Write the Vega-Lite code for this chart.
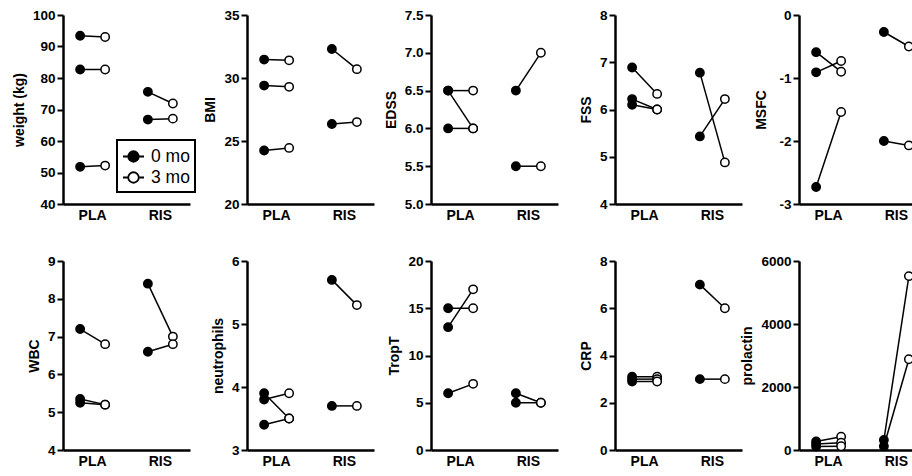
{
  "$schema": "https://vega.github.io/schema/vega-lite/v6.json",
  "padding": {"left": 12, "top": 8, "right": 0, "bottom": 0},
  "datasets": {
    "d": [
      {"measure":"weight","group":"PLA","subject":"P1","time":"0 mo","value":93.4},
      {"measure":"weight","group":"PLA","subject":"P1","time":"3 mo","value":93.0},
      {"measure":"weight","group":"PLA","subject":"P2","time":"0 mo","value":82.7},
      {"measure":"weight","group":"PLA","subject":"P2","time":"3 mo","value":82.7},
      {"measure":"weight","group":"PLA","subject":"P3","time":"0 mo","value":51.8},
      {"measure":"weight","group":"PLA","subject":"P3","time":"3 mo","value":52.2},
      {"measure":"weight","group":"RIS","subject":"R1","time":"0 mo","value":75.6},
      {"measure":"weight","group":"RIS","subject":"R1","time":"3 mo","value":71.9},
      {"measure":"weight","group":"RIS","subject":"R2","time":"0 mo","value":66.8},
      {"measure":"weight","group":"RIS","subject":"R2","time":"3 mo","value":67.1},

      {"measure":"BMI","group":"PLA","subject":"P1","time":"0 mo","value":31.46},
      {"measure":"BMI","group":"PLA","subject":"P1","time":"3 mo","value":31.4},
      {"measure":"BMI","group":"PLA","subject":"P2","time":"0 mo","value":29.4},
      {"measure":"BMI","group":"PLA","subject":"P2","time":"3 mo","value":29.3},
      {"measure":"BMI","group":"PLA","subject":"P3","time":"0 mo","value":24.25},
      {"measure":"BMI","group":"PLA","subject":"P3","time":"3 mo","value":24.45},
      {"measure":"BMI","group":"RIS","subject":"R1","time":"0 mo","value":32.3},
      {"measure":"BMI","group":"RIS","subject":"R1","time":"3 mo","value":30.7},
      {"measure":"BMI","group":"RIS","subject":"R2","time":"0 mo","value":26.35},
      {"measure":"BMI","group":"RIS","subject":"R2","time":"3 mo","value":26.5},

      {"measure":"EDSS","group":"PLA","subject":"P1","time":"0 mo","value":6.5},
      {"measure":"EDSS","group":"PLA","subject":"P1","time":"3 mo","value":6.5},
      {"measure":"EDSS","group":"PLA","subject":"P2","time":"0 mo","value":6.5},
      {"measure":"EDSS","group":"PLA","subject":"P2","time":"3 mo","value":6.0},
      {"measure":"EDSS","group":"PLA","subject":"P3","time":"0 mo","value":6.0},
      {"measure":"EDSS","group":"PLA","subject":"P3","time":"3 mo","value":6.0},
      {"measure":"EDSS","group":"RIS","subject":"R1","time":"0 mo","value":6.5},
      {"measure":"EDSS","group":"RIS","subject":"R1","time":"3 mo","value":7.0},
      {"measure":"EDSS","group":"RIS","subject":"R2","time":"0 mo","value":5.5},
      {"measure":"EDSS","group":"RIS","subject":"R2","time":"3 mo","value":5.5},

      {"measure":"FSS","group":"PLA","subject":"P1","time":"0 mo","value":6.89},
      {"measure":"FSS","group":"PLA","subject":"P1","time":"3 mo","value":6.33},
      {"measure":"FSS","group":"PLA","subject":"P2","time":"0 mo","value":6.22},
      {"measure":"FSS","group":"PLA","subject":"P2","time":"3 mo","value":6.0},
      {"measure":"FSS","group":"PLA","subject":"P3","time":"0 mo","value":6.1},
      {"measure":"FSS","group":"PLA","subject":"P3","time":"3 mo","value":6.0},
      {"measure":"FSS","group":"RIS","subject":"R1","time":"0 mo","value":6.78},
      {"measure":"FSS","group":"RIS","subject":"R1","time":"3 mo","value":4.88},
      {"measure":"FSS","group":"RIS","subject":"R2","time":"0 mo","value":5.43},
      {"measure":"FSS","group":"RIS","subject":"R2","time":"3 mo","value":6.22},

      {"measure":"MSFC","group":"PLA","subject":"P1","time":"0 mo","value":-0.59},
      {"measure":"MSFC","group":"PLA","subject":"P1","time":"3 mo","value":-0.9},
      {"measure":"MSFC","group":"PLA","subject":"P2","time":"0 mo","value":-0.91},
      {"measure":"MSFC","group":"PLA","subject":"P2","time":"3 mo","value":-0.73},
      {"measure":"MSFC","group":"PLA","subject":"P3","time":"0 mo","value":-2.73},
      {"measure":"MSFC","group":"PLA","subject":"P3","time":"3 mo","value":-1.54},
      {"measure":"MSFC","group":"RIS","subject":"R1","time":"0 mo","value":-0.27},
      {"measure":"MSFC","group":"RIS","subject":"R1","time":"3 mo","value":-0.5},
      {"measure":"MSFC","group":"RIS","subject":"R2","time":"0 mo","value":-2.0},
      {"measure":"MSFC","group":"RIS","subject":"R2","time":"3 mo","value":-2.07},

      {"measure":"WBC","group":"PLA","subject":"P1","time":"0 mo","value":7.2},
      {"measure":"WBC","group":"PLA","subject":"P1","time":"3 mo","value":6.8},
      {"measure":"WBC","group":"PLA","subject":"P2","time":"0 mo","value":5.35},
      {"measure":"WBC","group":"PLA","subject":"P2","time":"3 mo","value":5.2},
      {"measure":"WBC","group":"PLA","subject":"P3","time":"0 mo","value":5.25},
      {"measure":"WBC","group":"PLA","subject":"P3","time":"3 mo","value":5.2},
      {"measure":"WBC","group":"RIS","subject":"R1","time":"0 mo","value":8.4},
      {"measure":"WBC","group":"RIS","subject":"R1","time":"3 mo","value":7.0},
      {"measure":"WBC","group":"RIS","subject":"R2","time":"0 mo","value":6.6},
      {"measure":"WBC","group":"RIS","subject":"R2","time":"3 mo","value":6.8},

      {"measure":"neutrophils","group":"PLA","subject":"P1","time":"0 mo","value":3.9},
      {"measure":"neutrophils","group":"PLA","subject":"P1","time":"3 mo","value":3.5},
      {"measure":"neutrophils","group":"PLA","subject":"P2","time":"0 mo","value":3.8},
      {"measure":"neutrophils","group":"PLA","subject":"P2","time":"3 mo","value":3.9},
      {"measure":"neutrophils","group":"PLA","subject":"P3","time":"0 mo","value":3.4},
      {"measure":"neutrophils","group":"PLA","subject":"P3","time":"3 mo","value":3.5},
      {"measure":"neutrophils","group":"RIS","subject":"R1","time":"0 mo","value":5.7},
      {"measure":"neutrophils","group":"RIS","subject":"R1","time":"3 mo","value":5.3},
      {"measure":"neutrophils","group":"RIS","subject":"R2","time":"0 mo","value":3.7},
      {"measure":"neutrophils","group":"RIS","subject":"R2","time":"3 mo","value":3.7},

      {"measure":"TropT","group":"PLA","subject":"P1","time":"0 mo","value":15},
      {"measure":"TropT","group":"PLA","subject":"P1","time":"3 mo","value":15},
      {"measure":"TropT","group":"PLA","subject":"P2","time":"0 mo","value":13},
      {"measure":"TropT","group":"PLA","subject":"P2","time":"3 mo","value":17},
      {"measure":"TropT","group":"PLA","subject":"P3","time":"0 mo","value":6},
      {"measure":"TropT","group":"PLA","subject":"P3","time":"3 mo","value":7},
      {"measure":"TropT","group":"RIS","subject":"R1","time":"0 mo","value":6},
      {"measure":"TropT","group":"RIS","subject":"R1","time":"3 mo","value":5},
      {"measure":"TropT","group":"RIS","subject":"R2","time":"0 mo","value":5},
      {"measure":"TropT","group":"RIS","subject":"R2","time":"3 mo","value":5},

      {"measure":"CRP","group":"PLA","subject":"P1","time":"0 mo","value":3.1},
      {"measure":"CRP","group":"PLA","subject":"P1","time":"3 mo","value":3.1},
      {"measure":"CRP","group":"PLA","subject":"P2","time":"0 mo","value":3.0},
      {"measure":"CRP","group":"PLA","subject":"P2","time":"3 mo","value":3.0},
      {"measure":"CRP","group":"PLA","subject":"P3","time":"0 mo","value":2.9},
      {"measure":"CRP","group":"PLA","subject":"P3","time":"3 mo","value":2.9},
      {"measure":"CRP","group":"RIS","subject":"R1","time":"0 mo","value":7},
      {"measure":"CRP","group":"RIS","subject":"R1","time":"3 mo","value":6},
      {"measure":"CRP","group":"RIS","subject":"R2","time":"0 mo","value":3},
      {"measure":"CRP","group":"RIS","subject":"R2","time":"3 mo","value":3},

      {"measure":"prolactin","group":"PLA","subject":"P1","time":"0 mo","value":270},
      {"measure":"prolactin","group":"PLA","subject":"P1","time":"3 mo","value":420},
      {"measure":"prolactin","group":"PLA","subject":"P2","time":"0 mo","value":190},
      {"measure":"prolactin","group":"PLA","subject":"P2","time":"3 mo","value":230},
      {"measure":"prolactin","group":"PLA","subject":"P3","time":"0 mo","value":110},
      {"measure":"prolactin","group":"PLA","subject":"P3","time":"3 mo","value":120},
      {"measure":"prolactin","group":"RIS","subject":"R1","time":"0 mo","value":320},
      {"measure":"prolactin","group":"RIS","subject":"R1","time":"3 mo","value":5520},
      {"measure":"prolactin","group":"RIS","subject":"R2","time":"0 mo","value":120},
      {"measure":"prolactin","group":"RIS","subject":"R2","time":"3 mo","value":2880}
    ]
  },
  "data": {"name": "d"},
  "columns": 5,
  "spacing": {"row": 57, "column": 57},
  "bounds": "flush",
  "resolve": {"legend": {"fill": "independent"}},
  "concat": [
    {
      "width": 127, "height": 189,
      "transform": [{"filter": "datum.measure === 'weight'"}],
      "encoding": {
        "x": {"field": "group", "type": "nominal", "sort": ["PLA","RIS"], "scale": {"type": "band", "paddingInner": 0.2, "paddingOuter": 0.0372}, "axis": {"title": null, "ticks": false, "labelAngle": 0, "labelPadding": 4, "labelFontSize": 14}},
        "xOffset": {"field": "time", "type": "nominal", "sort": ["0 mo","3 mo"], "scale": {"type": "point", "padding": 0.584}},
        "y": {"field": "value", "type": "quantitative", "scale": {"domain": [40,100], "nice": false, "zero": false}, "axis": {"title": "weight (kg)", "values": [40,50,60,70,80,90,100], "format": "d"}}
      },
      "layer": [
        {"mark": {"type": "line", "color": "black", "strokeWidth": 1.5}, "encoding": {"detail": {"field": "subject"}}},
        {"mark": {"type": "point", "filled": true, "size": 70, "stroke": "black", "strokeWidth": 1.5, "opacity": 1},
         "encoding": {"fill": {"field": "time", "type": "nominal", "scale": {"domain": ["0 mo","3 mo"], "range": ["black","white"]},
           "legend": {"title": null, "orient": "none", "legendX": 54, "legendY": 125, "strokeColor": "black", "padding": 5, "rowPadding": 0,
             "symbolType": "M-1,0L-0.5,0M0.5,0L1,0M0.5,0A0.5,0.5,0,1,1,-0.5,0A0.5,0.5,0,1,1,0.5,0Z",
             "symbolSize": 441, "symbolStrokeColor": "black", "symbolStrokeWidth": 1.8, "symbolOpacity": 1,
             "labelFont": "Liberation Sans", "labelFontSize": 17.5, "labelFontWeight": "normal", "labelColor": "black", "labelOffset": 6}}}}
      ]
    },
    {
      "width": 127, "height": 189,
      "transform": [{"filter": "datum.measure === 'BMI'"}],
      "encoding": {
        "x": {"field": "group", "type": "nominal", "sort": ["PLA","RIS"], "scale": {"type": "band", "paddingInner": 0.2, "paddingOuter": 0.0372}, "axis": {"title": null, "ticks": false, "labelAngle": 0, "labelPadding": 4, "labelFontSize": 14}},
        "xOffset": {"field": "time", "type": "nominal", "sort": ["0 mo","3 mo"], "scale": {"type": "point", "padding": 0.584}},
        "y": {"field": "value", "type": "quantitative", "scale": {"domain": [20,35], "nice": false, "zero": false}, "axis": {"title": "BMI", "values": [20,25,30,35], "format": "d"}}
      },
      "layer": [
        {"mark": {"type": "line", "color": "black", "strokeWidth": 1.5}, "encoding": {"detail": {"field": "subject"}}},
        {"mark": {"type": "point", "filled": true, "size": 70, "stroke": "black", "strokeWidth": 1.5, "opacity": 1},
         "encoding": {"fill": {"field": "time", "type": "nominal", "scale": {"domain": ["0 mo","3 mo"], "range": ["black","white"]}, "legend": null}}}
      ]
    },
    {
      "width": 127, "height": 189,
      "transform": [{"filter": "datum.measure === 'EDSS'"}],
      "encoding": {
        "x": {"field": "group", "type": "nominal", "sort": ["PLA","RIS"], "scale": {"type": "band", "paddingInner": 0.2, "paddingOuter": 0.0372}, "axis": {"title": null, "ticks": false, "labelAngle": 0, "labelPadding": 4, "labelFontSize": 14}},
        "xOffset": {"field": "time", "type": "nominal", "sort": ["0 mo","3 mo"], "scale": {"type": "point", "padding": 0.584}},
        "y": {"field": "value", "type": "quantitative", "scale": {"domain": [5,7.5], "nice": false, "zero": false}, "axis": {"title": "EDSS", "values": [5,5.5,6,6.5,7,7.5], "format": ".1f"}}
      },
      "layer": [
        {"mark": {"type": "line", "color": "black", "strokeWidth": 1.5}, "encoding": {"detail": {"field": "subject"}}},
        {"mark": {"type": "point", "filled": true, "size": 70, "stroke": "black", "strokeWidth": 1.5, "opacity": 1},
         "encoding": {"fill": {"field": "time", "type": "nominal", "scale": {"domain": ["0 mo","3 mo"], "range": ["black","white"]}, "legend": null}}}
      ]
    },
    {
      "width": 127, "height": 189,
      "transform": [{"filter": "datum.measure === 'FSS'"}],
      "encoding": {
        "x": {"field": "group", "type": "nominal", "sort": ["PLA","RIS"], "scale": {"type": "band", "paddingInner": 0.2, "paddingOuter": 0.0372}, "axis": {"title": null, "ticks": false, "labelAngle": 0, "labelPadding": 4, "labelFontSize": 14}},
        "xOffset": {"field": "time", "type": "nominal", "sort": ["0 mo","3 mo"], "scale": {"type": "point", "padding": 0.584}},
        "y": {"field": "value", "type": "quantitative", "scale": {"domain": [4,8], "nice": false, "zero": false}, "axis": {"title": "FSS", "values": [4,5,6,7,8], "format": "d"}}
      },
      "layer": [
        {"mark": {"type": "line", "color": "black", "strokeWidth": 1.5}, "encoding": {"detail": {"field": "subject"}}},
        {"mark": {"type": "point", "filled": true, "size": 70, "stroke": "black", "strokeWidth": 1.5, "opacity": 1},
         "encoding": {"fill": {"field": "time", "type": "nominal", "scale": {"domain": ["0 mo","3 mo"], "range": ["black","white"]}, "legend": null}}}
      ]
    },
    {
      "width": 127, "height": 189,
      "transform": [{"filter": "datum.measure === 'MSFC'"}],
      "encoding": {
        "x": {"field": "group", "type": "nominal", "sort": ["PLA","RIS"], "scale": {"type": "band", "paddingInner": 0.2, "paddingOuter": 0.0372}, "axis": {"title": null, "ticks": false, "labelAngle": 0, "labelPadding": 4, "labelFontSize": 14}},
        "xOffset": {"field": "time", "type": "nominal", "sort": ["0 mo","3 mo"], "scale": {"type": "point", "padding": 0.584}},
        "y": {"field": "value", "type": "quantitative", "scale": {"domain": [-3,0], "nice": false, "zero": false}, "axis": {"title": "MSFC", "values": [-3,-2,-1,0], "labelExpr": "'' + datum.value", "titlePadding": 10}}
      },
      "layer": [
        {"mark": {"type": "line", "color": "black", "strokeWidth": 1.5}, "encoding": {"detail": {"field": "subject"}}},
        {"mark": {"type": "point", "filled": true, "size": 70, "stroke": "black", "strokeWidth": 1.5, "opacity": 1},
         "encoding": {"fill": {"field": "time", "type": "nominal", "scale": {"domain": ["0 mo","3 mo"], "range": ["black","white"]}, "legend": null}}}
      ]
    },
    {
      "width": 127, "height": 189,
      "transform": [{"filter": "datum.measure === 'WBC'"}],
      "encoding": {
        "x": {"field": "group", "type": "nominal", "sort": ["PLA","RIS"], "scale": {"type": "band", "paddingInner": 0.2, "paddingOuter": 0.0372}, "axis": {"title": null, "ticks": false, "labelAngle": 0, "labelPadding": 4, "labelFontSize": 14}},
        "xOffset": {"field": "time", "type": "nominal", "sort": ["0 mo","3 mo"], "scale": {"type": "point", "padding": 0.584}},
        "y": {"field": "value", "type": "quantitative", "scale": {"domain": [4,9], "nice": false, "zero": false}, "axis": {"title": "WBC", "values": [4,5,6,7,8,9], "format": "d"}}
      },
      "layer": [
        {"mark": {"type": "line", "color": "black", "strokeWidth": 1.5}, "encoding": {"detail": {"field": "subject"}}},
        {"mark": {"type": "point", "filled": true, "size": 70, "stroke": "black", "strokeWidth": 1.5, "opacity": 1},
         "encoding": {"fill": {"field": "time", "type": "nominal", "scale": {"domain": ["0 mo","3 mo"], "range": ["black","white"]}, "legend": null}}}
      ]
    },
    {
      "width": 127, "height": 189,
      "transform": [{"filter": "datum.measure === 'neutrophils'"}],
      "encoding": {
        "x": {"field": "group", "type": "nominal", "sort": ["PLA","RIS"], "scale": {"type": "band", "paddingInner": 0.2, "paddingOuter": 0.0372}, "axis": {"title": null, "ticks": false, "labelAngle": 0, "labelPadding": 4, "labelFontSize": 14}},
        "xOffset": {"field": "time", "type": "nominal", "sort": ["0 mo","3 mo"], "scale": {"type": "point", "padding": 0.584}},
        "y": {"field": "value", "type": "quantitative", "scale": {"domain": [3,6], "nice": false, "zero": false}, "axis": {"title": "neutrophils", "values": [3,4,5,6], "format": "d"}}
      },
      "layer": [
        {"mark": {"type": "line", "color": "black", "strokeWidth": 1.5}, "encoding": {"detail": {"field": "subject"}}},
        {"mark": {"type": "point", "filled": true, "size": 70, "stroke": "black", "strokeWidth": 1.5, "opacity": 1},
         "encoding": {"fill": {"field": "time", "type": "nominal", "scale": {"domain": ["0 mo","3 mo"], "range": ["black","white"]}, "legend": null}}}
      ]
    },
    {
      "width": 127, "height": 189,
      "transform": [{"filter": "datum.measure === 'TropT'"}],
      "encoding": {
        "x": {"field": "group", "type": "nominal", "sort": ["PLA","RIS"], "scale": {"type": "band", "paddingInner": 0.2, "paddingOuter": 0.0372}, "axis": {"title": null, "ticks": false, "labelAngle": 0, "labelPadding": 4, "labelFontSize": 14}},
        "xOffset": {"field": "time", "type": "nominal", "sort": ["0 mo","3 mo"], "scale": {"type": "point", "padding": 0.584}},
        "y": {"field": "value", "type": "quantitative", "scale": {"domain": [0,20], "nice": false, "zero": false}, "axis": {"title": "TropT", "values": [0,5,10,15,20], "format": "d"}}
      },
      "layer": [
        {"mark": {"type": "line", "color": "black", "strokeWidth": 1.5}, "encoding": {"detail": {"field": "subject"}}},
        {"mark": {"type": "point", "filled": true, "size": 70, "stroke": "black", "strokeWidth": 1.5, "opacity": 1},
         "encoding": {"fill": {"field": "time", "type": "nominal", "scale": {"domain": ["0 mo","3 mo"], "range": ["black","white"]}, "legend": null}}}
      ]
    },
    {
      "width": 127, "height": 189,
      "transform": [{"filter": "datum.measure === 'CRP'"}],
      "encoding": {
        "x": {"field": "group", "type": "nominal", "sort": ["PLA","RIS"], "scale": {"type": "band", "paddingInner": 0.2, "paddingOuter": 0.0372}, "axis": {"title": null, "ticks": false, "labelAngle": 0, "labelPadding": 4, "labelFontSize": 14}},
        "xOffset": {"field": "time", "type": "nominal", "sort": ["0 mo","3 mo"], "scale": {"type": "point", "padding": 0.584}},
        "y": {"field": "value", "type": "quantitative", "scale": {"domain": [0,8], "nice": false, "zero": false}, "axis": {"title": "CRP", "values": [0,2,4,6,8], "format": "d"}}
      },
      "layer": [
        {"mark": {"type": "line", "color": "black", "strokeWidth": 1.5}, "encoding": {"detail": {"field": "subject"}}},
        {"mark": {"type": "point", "filled": true, "size": 70, "stroke": "black", "strokeWidth": 1.5, "opacity": 1},
         "encoding": {"fill": {"field": "time", "type": "nominal", "scale": {"domain": ["0 mo","3 mo"], "range": ["black","white"]}, "legend": null}}}
      ]
    },
    {
      "width": 127, "height": 189,
      "transform": [{"filter": "datum.measure === 'prolactin'"}],
      "encoding": {
        "x": {"field": "group", "type": "nominal", "sort": ["PLA","RIS"], "scale": {"type": "band", "paddingInner": 0.2, "paddingOuter": 0.0372}, "axis": {"title": null, "ticks": false, "labelAngle": 0, "labelPadding": 4, "labelFontSize": 14}},
        "xOffset": {"field": "time", "type": "nominal", "sort": ["0 mo","3 mo"], "scale": {"type": "point", "padding": 0.584}},
        "y": {"field": "value", "type": "quantitative", "scale": {"domain": [0,6000], "nice": false, "zero": false}, "axis": {"title": "prolactin", "values": [0,2000,4000,6000], "format": "d"}}
      },
      "layer": [
        {"mark": {"type": "line", "color": "black", "strokeWidth": 1.5}, "encoding": {"detail": {"field": "subject"}}},
        {"mark": {"type": "point", "filled": true, "size": 70, "stroke": "black", "strokeWidth": 1.5, "opacity": 1},
         "encoding": {"fill": {"field": "time", "type": "nominal", "scale": {"domain": ["0 mo","3 mo"], "range": ["black","white"]}, "legend": null}}}
      ]
    }
  ],
  "config": {
    "font": "Liberation Sans",
    "view": {"stroke": null},
    "legend": {"strokeWidth": 2},
    "axis": {
      "grid": false,
      "domainColor": "black", "domainWidth": 2.5,
      "tickColor": "black", "tickWidth": 2, "tickSize": 6,
      "labelColor": "black", "titleColor": "black",
      "labelFont": "Liberation Sans", "titleFont": "Liberation Sans",
      "labelFontSize": 13.5, "labelFontWeight": "bold",
      "titleFontSize": 14, "titleFontWeight": "bold",
      "labelPadding": 2, "titlePadding": 6
    }
  }
}
